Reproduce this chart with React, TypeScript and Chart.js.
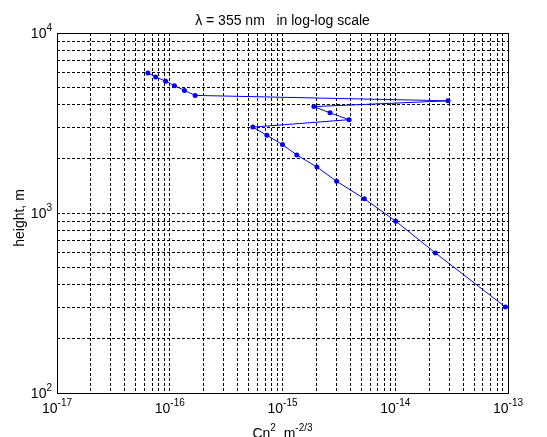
import React, { useEffect, useRef } from "react";
import { Chart, registerables } from "chart.js";

Chart.register(...registerables);

// Turbulence profile: height (m) and refractive-index structure constant Cn^2 (m^-2/3)
const heights = [
  6000, 5700, 5400, 5100, 4800, 4500, 4200, 3900, 3600, 3300,
  3000, 2700, 2400, 2100, 1800, 1500, 1200, 900, 600, 300,
];
const cn2 = [
  6.4e-17, 7.5e-17, 9.2e-17, 1.1e-16, 1.35e-16, 1.68e-16, 2.94e-14, 1.9e-15, 2.64e-15, 3.9e-15,
  5.46e-16, 7.27e-16, 1.0e-15, 1.34e-15, 2.02e-15, 3.02e-15, 5.32e-15, 1.01e-14, 2.27e-14, 9.5e-14,
];

// Axis decades (powers of ten) and the minor multipliers used for the grid
const xDecades = [-17, -16, -15, -14, -13];
const yDecades = [2, 3, 4];
const minorSteps = [1, 2, 3, 4, 5, 6, 7, 8, 9];

const titleText = "\u03bb = 355 nm   in log-log scale";
const yTitle = "height, m";
const xTitleBase = "Cn";
const xTitleSup1 = "2";
const xTitleUnit = "  m";
const xTitleSup2 = "-2/3";

const FONT = "'Liberation Sans', Arial, Helvetica, sans-serif";
const MAIN = 14;
const SUP = 10;

function gridValues(decades: number[]): number[] {
  const out: number[] = [];
  for (let i = 0; i < decades.length - 1; i++) {
    for (const m of minorSteps) out.push(m * Math.pow(10, decades[i]));
  }
  out.push(Math.pow(10, decades[decades.length - 1]));
  return out;
}

// Draws "10" with a superscript exponent; align: 'center' | 'right'
function drawPower(
  ctx: CanvasRenderingContext2D,
  exp: string,
  x: number,
  baseY: number,
  align: "center" | "right"
) {
  ctx.font = `${MAIN}px ${FONT}`;
  const wBase = ctx.measureText("10").width;
  ctx.font = `${SUP}px ${FONT}`;
  const wSup = ctx.measureText(exp).width;
  const total = wBase + wSup;
  const start = align === "center" ? x - total / 2 : x - total;
  ctx.textAlign = "left";
  ctx.textBaseline = "alphabetic";
  ctx.font = `${MAIN}px ${FONT}`;
  ctx.fillText("10", start, baseY);
  ctx.font = `${SUP}px ${FONT}`;
  ctx.fillText(exp, start + wBase, baseY - 7);
}

const decorPlugin = {
  id: "axesDecor",
  afterDraw(chart: any) {
    const { ctx, chartArea } = chart;
    const { left, right, top, bottom } = chartArea;
    const xs = chart.scales.x;
    const ys = chart.scales.y;
    ctx.save();

    // axes box
    ctx.strokeStyle = "#000";
    ctx.lineWidth = 1;
    ctx.setLineDash([]);
    ctx.strokeRect(Math.round(left) + 0.5, Math.round(top) + 0.5, Math.round(right - left), Math.round(bottom - top));

    ctx.fillStyle = "#000";

    // x tick labels
    for (const e of xDecades) {
      const px = xs.getPixelForValue(Math.pow(10, e));
      drawPower(ctx, String(e), px, bottom + 20, "center");
    }
    // y tick labels
    for (const e of yDecades) {
      const py = ys.getPixelForValue(Math.pow(10, e));
      drawPower(ctx, String(e), left - 5, py + 5, "right");
    }

    // title
    ctx.font = `${MAIN}px ${FONT}`;
    ctx.textAlign = "center";
    ctx.textBaseline = "alphabetic";
    ctx.fillText(titleText, (left + right) / 2, top - 8);

    // x axis title with superscripts
    ctx.font = `${MAIN}px ${FONT}`;
    const w1 = ctx.measureText(xTitleBase).width;
    const w3 = ctx.measureText(xTitleUnit).width;
    ctx.font = `${SUP}px ${FONT}`;
    const w2 = ctx.measureText(xTitleSup1).width;
    const w4 = ctx.measureText(xTitleSup2).width;
    const tot = w1 + w2 + w3 + w4;
    let cx = (left + right) / 2 - tot / 2;
    const by = bottom + 45;
    ctx.textAlign = "left";
    ctx.font = `${MAIN}px ${FONT}`;
    ctx.fillText(xTitleBase, cx, by);
    cx += w1;
    ctx.font = `${SUP}px ${FONT}`;
    ctx.fillText(xTitleSup1, cx, by - 7);
    cx += w2;
    ctx.font = `${MAIN}px ${FONT}`;
    ctx.fillText(xTitleUnit, cx, by);
    cx += w3;
    ctx.font = `${SUP}px ${FONT}`;
    ctx.fillText(xTitleSup2, cx, by - 7);

    // y axis title
    ctx.translate(20, (top + bottom) / 2 + 5);
    ctx.rotate(-Math.PI / 2);
    ctx.font = `${MAIN}px ${FONT}`;
    ctx.textAlign = "center";
    ctx.textBaseline = "middle";
    ctx.fillText(yTitle, 0, 0);

    ctx.restore();
  },
};

export default function App() {
  const canvasRef = useRef<HTMLCanvasElement | null>(null);

  useEffect(() => {
    const canvas = canvasRef.current;
    if (!canvas) return;
    const points = heights.map((h, i) => ({ x: cn2[i], y: h }));
    const xGrid = gridValues(xDecades);
    const yGrid = gridValues(yDecades);

    const chart = new Chart(canvas, {
      type: "line",
      data: {
        datasets: [
          {
            data: points,
            borderColor: "#0000ff",
            backgroundColor: "#0000ff",
            borderWidth: 1,
            pointRadius: 2.5,
            pointBorderWidth: 0,
            pointBackgroundColor: "#0000ff",
            tension: 0,
            fill: false,
          },
        ],
      },
      options: {
        responsive: false,
        animation: false,
        devicePixelRatio: 1,
        layout: { padding: { left: 57, right: 39, top: 33, bottom: 44 } },
        plugins: {
          legend: { display: false },
          tooltip: { enabled: false },
          title: { display: false },
        },
        scales: {
          x: {
            type: "logarithmic",
            min: 1e-17,
            max: 1e-13,
            afterBuildTicks: (scale: any) => {
              scale.ticks = xGrid.map((v) => ({ value: v }));
            },
            afterFit: (scale: any) => {
              scale.height = 0;
            },
            ticks: { display: false },
            grid: { color: "#000", lineWidth: 1, drawTicks: false },
            border: { display: false, dash: [3, 2] },
          },
          y: {
            type: "logarithmic",
            min: 100,
            max: 10000,
            afterBuildTicks: (scale: any) => {
              scale.ticks = yGrid.map((v) => ({ value: v }));
            },
            afterFit: (scale: any) => {
              scale.width = 0;
            },
            ticks: { display: false },
            grid: { color: "#000", lineWidth: 1, drawTicks: false },
            border: { display: false, dash: [3, 2] },
          },
        },
      },
      plugins: [decorPlugin],
    });
    return () => chart.destroy();
  }, []);

  return (
    <div style={{ position: "absolute", left: 0, top: 0, width: 547, height: 437, background: "#fff" }}>
      <canvas ref={canvasRef} width={547} height={437} style={{ display: "block" }} />
    </div>
  );
}
